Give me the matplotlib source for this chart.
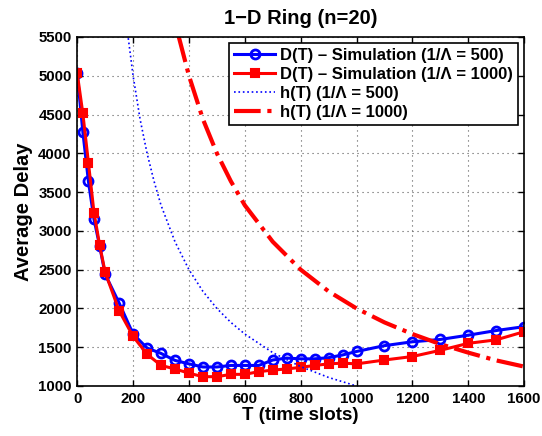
import matplotlib.pyplot as plt

plt.rcParams['font.family'] = ['Liberation Sans', 'DejaVu Sans']
plt.rcParams['font.weight'] = 'bold'

# simulated delay D(T)
T_sim = [0, 20, 40, 60, 80, 100, 150, 200, 250, 300, 350, 400, 450, 500, 550, 600,
         650, 700, 750, 800, 850, 900, 950, 1000, 1100, 1200, 1300, 1400, 1500, 1600]
D_500 = [5030, 4280, 3640, 3150, 2810, 2440, 2070, 1670, 1490, 1420, 1330, 1285, 1245, 1245, 1265, 1265,
         1265, 1335, 1360, 1350, 1350, 1365, 1400, 1445, 1520, 1570, 1600, 1655, 1715, 1765]
D_1000 = [5030, 4515, 3880, 3235, 2820, 2465, 1970, 1640, 1410, 1265, 1220, 1165, 1120, 1120, 1150, 1150,
          1185, 1205, 1220, 1240, 1265, 1285, 1295, 1285, 1335, 1380, 1460, 1550, 1595, 1700]

# analytic h(T)
T_h500 = [170, 180, 200, 225, 250, 275, 300, 350, 400, 450, 500, 550, 600, 700, 800, 900, 1000]
h_500 = [5880, 5560, 5000, 4440, 4000, 3640, 3330, 2860, 2500, 2220, 2000, 1820, 1670, 1430, 1250, 1110, 1000]
T_h1000 = [363, 400, 450, 500, 550, 600, 700, 800, 900, 1000, 1100, 1200, 1300, 1400, 1500, 1600]
h_1000 = [5510, 5000, 4440, 4000, 3640, 3330, 2860, 2500, 2220, 2000, 1820, 1670, 1540, 1430, 1330, 1250]

fig = plt.figure(figsize=(5.42, 4.36), dpi=100)
ax = fig.add_axes([0.1425, 0.1147, 0.8245, 0.8005])

ax.plot(T_sim, D_500, color='b', linewidth=2.2, marker='o', markersize=6.5,
        markerfacecolor='none', markeredgewidth=2, label='D(T) – Simulation (1/Λ = 500)')
ax.plot(T_sim, D_1000, color='r', linewidth=2.2, marker='s', markersize=6,
        markeredgewidth=1.5, label='D(T) – Simulation (1/Λ = 1000)')
ax.plot(T_h500, h_500, color='b', linestyle=':', linewidth=1.2, label='h(T) (1/Λ = 500)')
ax.plot(T_h1000, h_1000, color='r', linestyle='-.', linewidth=3, label='h(T) (1/Λ = 1000)')

ax.set_xlim(0, 1600)
ax.set_ylim(1000, 5500)
ax.set_xticks(range(0, 1601, 200))
ax.set_yticks(range(1000, 5501, 500))
ax.tick_params(direction='in', top=True, right=True, labelsize=10.8, width=1, length=4, pad=4)
for lab in ax.get_xticklabels() + ax.get_yticklabels():
    lab.set_fontweight('bold')
ax.grid(True, linestyle=(0, (1, 3.5)), color='0.35', linewidth=0.8)
for s in ax.spines.values():
    s.set_linewidth(1.2)

ax.set_title('1−D Ring (n=20)', fontsize=14.5, fontweight='bold', pad=9)
ax.set_xlabel('T (time slots)', fontsize=13.5, fontweight='bold', labelpad=1)
ax.set_ylabel('Average Delay', fontsize=14.5, fontweight='bold', labelpad=4)

leg = ax.legend(loc='upper right', fontsize=12, frameon=True, fancybox=False,
                edgecolor='k', framealpha=1, handlelength=2.5, borderpad=0.3,
                labelspacing=0.25, handletextpad=0.3, borderaxespad=0.35)
leg.get_frame().set_linewidth(1.2)
for t in leg.get_texts():
    t.set_fontweight('bold')

fig.savefig('out.png', dpi=100)
